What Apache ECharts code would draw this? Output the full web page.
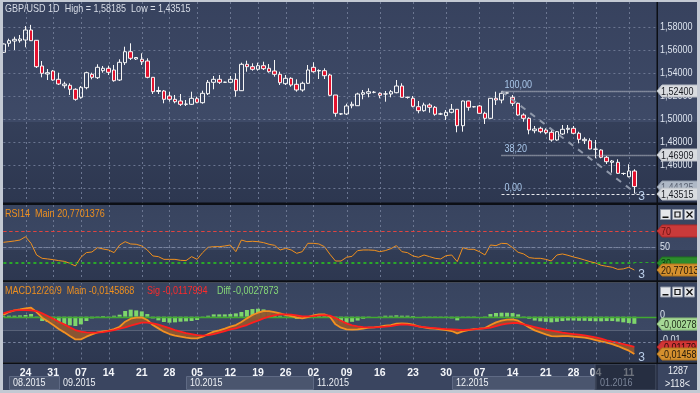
<!DOCTYPE html>
<html><head><meta charset="utf-8">
<script src="https://cdn.jsdelivr.net/npm/echarts@6/dist/echarts.min.js"></script>
<style>html,body{margin:0;padding:0;background:#c3c9d3;}#c{width:700px;height:393px;}</style>
</head><body><div id="c"></div>
<script>
// ---------- DATA ----------
const opens = [1.55800,1.56583,1.56783,1.56809,1.56870,1.57739,1.56844,1.54609,1.53913,1.54174,
1.53452,1.52896,1.52931,1.52583,1.51887,1.52722,1.53887,1.53591,1.54200,1.54409,
1.54261,1.53391,1.54896,1.55852,1.55218,1.55192,1.55044,1.53626,1.52392,1.52435,
1.52000,1.51713,1.51565,1.51278,1.51278,1.51765,1.51418,1.52200,1.53191,1.53452,
1.53191,1.53191,1.53452,1.52461,1.54757,1.54548,1.54322,1.54635,1.54409,1.54174,
1.53887,1.53070,1.53539,1.53018,1.52522,1.53105,1.54496,1.54174,1.54200,1.53826,
1.52087,1.50435,1.50435,1.51157,1.51157,1.52148,1.52235,1.52322,1.52235,1.52174,
1.52174,1.52287,1.52870,1.51887,1.51800,1.51070,1.50722,1.51218,1.51018,1.50435,
1.50287,1.50583,1.50844,1.49418,1.51565,1.51070,1.51131,1.50496,1.50061,1.51800,
1.51652,1.52261,1.51887,1.51365,1.50348,1.50061,1.48983,1.49192,1.49044,1.48844,
1.48174,1.48696,1.49105,1.49192,1.48757,1.48113,1.48113,1.47365,1.47304,1.46670,
1.46235,1.46235,1.45265,1.44983,1.45478];
const closes = [1.56522,1.56809,1.56931,1.56957,1.57739,1.56809,1.54548,1.53974,1.54026,1.53391,
1.53044,1.53044,1.52583,1.51713,1.52757,1.54026,1.53626,1.54496,1.54409,1.54061,
1.53331,1.54931,1.55852,1.55278,1.55348,1.54983,1.53626,1.52374,1.52478,1.51713,
1.51713,1.51504,1.51278,1.51300,1.51800,1.51452,1.52235,1.53191,1.53452,1.53191,
1.53200,1.53452,1.52461,1.54757,1.54548,1.54322,1.54635,1.54374,1.54113,1.53887,
1.53157,1.53539,1.52957,1.52522,1.53105,1.54261,1.54113,1.54217,1.53765,1.52061,
1.50496,1.50450,1.51131,1.51278,1.52174,1.52287,1.52374,1.52330,1.52061,1.52180,
1.52374,1.52870,1.51887,1.51880,1.51105,1.50722,1.51218,1.51018,1.50409,1.50440,
1.50583,1.50844,1.49418,1.51565,1.51018,1.51060,1.50496,1.50061,1.51800,1.51652,
1.52235,1.52265,1.51365,1.50348,1.50061,1.49044,1.49131,1.48896,1.48809,1.48174,
1.48896,1.49105,1.49192,1.48757,1.48235,1.48235,1.47391,1.47380,1.46670,1.46287,
1.46348,1.45278,1.45260,1.45478,1.44125];
const lows = [1.55739,1.56287,1.56000,1.56635,1.56235,1.56783,1.54435,1.53626,1.53391,1.53331,
1.52957,1.52670,1.52087,1.51591,1.51765,1.52583,1.53452,1.53478,1.54026,1.53826,
1.53244,1.53305,1.54696,1.55131,1.55131,1.54696,1.53539,1.52174,1.52174,1.51365,
1.51504,1.51365,1.51131,1.51131,1.51218,1.51365,1.51331,1.52087,1.52583,1.53044,
1.53150,1.53157,1.51939,1.52435,1.54113,1.54200,1.54200,1.54261,1.54026,1.53678,
1.52957,1.52957,1.52809,1.52374,1.52374,1.53044,1.54026,1.53478,1.53478,1.52000,
1.50200,1.50348,1.50348,1.50931,1.51131,1.51713,1.51887,1.52235,1.51800,1.51504,
1.51887,1.52235,1.51887,1.51765,1.51018,1.50496,1.50635,1.50548,1.50287,1.50348,
1.49913,1.50496,1.48844,1.48896,1.50722,1.51000,1.50450,1.49565,1.50000,1.51218,
1.51365,1.52220,1.51131,1.50287,1.49765,1.48670,1.48757,1.48757,1.48670,1.48026,
1.48113,1.48609,1.48757,1.48670,1.47887,1.47826,1.47365,1.46583,1.46583,1.46087,
1.45331,1.45217,1.45131,1.44922,1.43515];
const highs = [1.56565,1.56983,1.57157,1.57305,1.58087,1.58185,1.56870,1.55044,1.54348,1.54261,
1.54026,1.53244,1.53105,1.52670,1.52870,1.54113,1.54026,1.54757,1.54609,1.54635,
1.54696,1.55192,1.56287,1.56583,1.55365,1.55713,1.55278,1.53626,1.52809,1.52522,
1.52374,1.52087,1.52174,1.51652,1.52374,1.51939,1.52461,1.53391,1.53739,1.53826,
1.53250,1.53739,1.53974,1.54896,1.55070,1.54844,1.54896,1.54983,1.54783,1.55131,
1.54113,1.53826,1.53626,1.53452,1.53244,1.54696,1.54931,1.54322,1.54409,1.53913,
1.52087,1.50496,1.51331,1.51504,1.52287,1.52522,1.52670,1.52435,1.52322,1.52435,
1.52522,1.53391,1.53105,1.51939,1.52000,1.51565,1.51418,1.51365,1.51131,1.50548,
1.50783,1.51305,1.50870,1.51600,1.51600,1.51100,1.51218,1.50635,1.51820,1.52374,
1.52400,1.52300,1.52087,1.51418,1.50496,1.50148,1.49391,1.49331,1.49192,1.49044,
1.48957,1.49479,1.49479,1.49391,1.48896,1.48409,1.48322,1.48174,1.47365,1.46783,
1.46435,1.46496,1.45331,1.46061,1.45626];
const rsi = [55.7,56.5,57.4,58.6,62.8,54.4,39.7,35.5,34.7,33.8,
32.6,31.7,29.2,25.8,36.8,42.7,43.5,49.0,47.3,46.0,
42.7,52.3,56.5,53.6,53.2,51.1,46.0,38.5,37.6,34.2,
34.2,34.2,33.0,32.6,37.6,34.2,42.7,49.4,50.2,50.2,
51.1,52.3,43.9,58.6,56.5,57.0,56.5,55.3,53.2,51.9,
46.0,48.1,46.0,41.8,43.9,54.4,54.4,53.6,50.2,40.6,
32.1,32.1,36.8,38.0,45.2,46.0,46.0,45.6,43.9,45.2,
47.7,51.5,43.9,42.7,38.5,36.8,39.7,37.6,35.5,34.7,
38.9,39.7,31.3,49.0,46.9,46.9,43.9,39.7,52.3,51.5,
54.4,54.0,49.0,43.1,41.0,36.4,35.5,35.5,34.2,32.1,
39.7,41.0,39.3,37.2,35.5,33.4,31.3,29.6,26.7,25.4,
24.2,21.6,22.1,24.2,20.77];
const macdMain = [0.00065,0.00182,0.00247,0.00286,0.00326,0.00352,0.00182,-0.00039,-0.00182,-0.00326,
-0.00482,-0.00612,-0.00755,-0.00885,-0.00885,-0.00781,-0.00690,-0.00612,-0.00573,-0.00547,
-0.00482,-0.00391,-0.00195,-0.00078,-0.00039,-0.00026,-0.00130,-0.00326,-0.00456,-0.00586,
-0.00677,-0.00742,-0.00781,-0.00820,-0.00846,-0.00846,-0.00781,-0.00677,-0.00586,-0.00534,
-0.00469,-0.00391,-0.00326,-0.00208,-0.00065,0.00065,0.00156,0.00221,0.00221,0.00182,
0.00130,0.00065,0.00026,-0.00039,-0.00065,-0.00013,0.00052,0.00091,0.00091,0.00000,
-0.00299,-0.00430,-0.00495,-0.00508,-0.00495,-0.00469,-0.00430,-0.00417,-0.00391,-0.00352,
-0.00326,-0.00273,-0.00260,-0.00273,-0.00313,-0.00378,-0.00417,-0.00456,-0.00469,-0.00495,
-0.00521,-0.00560,-0.00651,-0.00573,-0.00521,-0.00482,-0.00469,-0.00443,-0.00326,-0.00221,
-0.00156,-0.00117,-0.00104,-0.00156,-0.00286,-0.00417,-0.00534,-0.00612,-0.00690,-0.00755,
-0.00768,-0.00755,-0.00755,-0.00781,-0.00794,-0.00820,-0.00859,-0.00911,-0.00964,-0.01016,
-0.01068,-0.01146,-0.01237,-0.01328,-0.01459];
const macdSig = [0.00130,0.00195,0.00247,0.00260,0.00260,0.00247,0.00221,0.00130,0.00026,-0.00078,
-0.00195,-0.00299,-0.00417,-0.00521,-0.00586,-0.00612,-0.00625,-0.00625,-0.00599,-0.00560,
-0.00521,-0.00469,-0.00417,-0.00352,-0.00286,-0.00234,-0.00234,-0.00260,-0.00313,-0.00378,
-0.00443,-0.00521,-0.00586,-0.00638,-0.00677,-0.00716,-0.00742,-0.00716,-0.00677,-0.00625,
-0.00560,-0.00495,-0.00456,-0.00391,-0.00326,-0.00234,-0.00156,-0.00065,0.00000,0.00052,
0.00091,0.00091,0.00078,0.00052,0.00013,0.00013,0.00026,0.00052,0.00065,0.00039,
-0.00052,-0.00156,-0.00260,-0.00339,-0.00378,-0.00404,-0.00417,-0.00417,-0.00404,-0.00391,
-0.00365,-0.00326,-0.00299,-0.00313,-0.00339,-0.00378,-0.00404,-0.00430,-0.00443,-0.00469,
-0.00482,-0.00495,-0.00508,-0.00521,-0.00508,-0.00495,-0.00469,-0.00456,-0.00430,-0.00365,
-0.00313,-0.00273,-0.00247,-0.00247,-0.00299,-0.00352,-0.00404,-0.00456,-0.00508,-0.00547,
-0.00586,-0.00625,-0.00651,-0.00677,-0.00703,-0.00729,-0.00768,-0.00807,-0.00859,-0.00924,
-0.00977,-0.01016,-0.01068,-0.01120,-0.01180];
const macdDiff = [0.00030,0.00040,0.00040,0.00050,0.00066,0.00105,-0.00039,-0.00169,-0.00208,-0.00248,
-0.00287,-0.00313,-0.00338,-0.00364,-0.00299,-0.00169,-0.00065,0.00013,0.00026,0.00013,
0.00039,0.00078,0.00222,0.00274,0.00247,0.00208,0.00104,-0.00066,-0.00143,-0.00208,
-0.00234,-0.00221,-0.00195,-0.00182,-0.00169,-0.00130,-0.00039,0.00039,0.00091,0.00091,
0.00091,0.00104,0.00130,0.00183,0.00261,0.00299,0.00312,0.00286,0.00221,0.00130,
0.00039,-0.00026,-0.00052,-0.00091,-0.00078,-0.00026,0.00026,0.00039,0.00026,-0.00039,
-0.00247,-0.00274,-0.00235,-0.00200,-0.00150,-0.00080,-0.00020,0.00000,0.00013,0.00039,
0.00039,0.00053,0.00039,0.00040,0.00026,0.00000,-0.00013,-0.00026,-0.00026,-0.00026,
-0.00039,-0.00065,-0.00143,-0.00052,-0.00013,0.00013,0.00000,0.00013,0.00104,0.00144,
0.00157,0.00156,0.00143,0.00091,0.00013,-0.00080,-0.00150,-0.00180,-0.00200,-0.00220,
-0.00200,-0.00170,-0.00150,-0.00150,-0.00160,-0.00160,-0.00170,-0.00180,-0.00180,-0.00170,
-0.00170,-0.00190,-0.00220,-0.00250,-0.00279];
const slotCount = 119;
const tickIdx = [4,9,14,19,25,30,35,41,46,51,56,62,68,74,80,86,92,98,103,107,113];
const tickLabels = ['24','31','07','14','21','28','05','12','19','26','02','09','16','23','30','07','14','21','28','04','11'];
const monthStartIdx = [0,10,33,56,81,107];
const monthLabels = ['08.2015','09.2015','10.2015','11.2015','12.2015','01.2016'];
const priceTicks = [1.44,1.46,1.48,1.50,1.52,1.54,1.56,1.58];
const rsiTicks = [50];
const macdTicks = [0, -0.01];
const macdTickLabels = ['0', '-0,01'];
const fibLevels = [1.524, 1.46909, 1.43515];
const fibLabels = ['100,00','38,20','0,00'];
const fibStartIdx = 90;
const trendFrom = [90, 1.524];
const trendTo = [114, 1.43515];
const lastPrice = 1.44125;
const rsiLevels = [70, 50, 30];
const titleMain = 'GBP/USD 1D  High = 1,58185  Low = 1,43515';
const titleRsi = 'RSI14  Main 20,7701376';
const titleMacd = ['MACD12/26/9  Main -0,0145868', 'Sig -0,0117994', 'Diff -0,0027873'];
const rsiTagText = '20,77013';
const macdTagTexts = ['-0,00278', '-0,01179', '-0,01458'];
const cornerTexts = ['1287', '>118<'];

// ---------- CHART ----------
const FONT = "'Liberation Sans',Arial,sans-serif";
const SX = 0.82; // condensed look of the original UI font
const chart = echarts.init(document.getElementById('c'), null, {width:700, height:393});
const cats = Array.from({length:slotCount}, (_, i) => String(i));
const tickMap = {}; tickIdx.forEach((t, k) => tickMap[t] = tickLabels[k]);
const candles = opens.map((o, i) => [o, closes[i], lows[i], highs[i]]);
const fillBase = macdMain.map((m, i) => Math.min(m, macdSig[i]));
const fillBand = macdMain.map((m, i) => Math.abs(m - macdSig[i]));
const fmt5 = v => v.toFixed(5).replace('.', ',');
const GL = 3.4, GW = 653.1;
const NONE = 'rgba(0,0,0,0)';
const hiddenX = gi => ({type:'category', gridIndex:gi, data:cats, boundaryGap:false,
  axisLine:{show:false}, axisTick:{show:false}, axisLabel:{show:false}, splitLine:{show:false}});
const rsiLineColors = [10,20,30,40,50,60,70,80,90].map(v => v === rsiLevels[0] ? '#e04440' : v === rsiLevels[2] ? '#2aa82a' : v === rsiLevels[1] ? '#7a85a0' : NONE);

const option = {
  animation:false,
  backgroundColor:'#c3c9d3',
  textStyle:{fontFamily:FONT},
  grid:[
    {left:GL, width:GW, top:4, height:207, outerBoundsMode:'none'},
    {left:GL, width:GW, top:207.2, height:79.25, outerBoundsMode:'none'},
    {left:GL, width:GW, top:265.5, height:102.4, outerBoundsMode:'none'},
    {left:GL, width:GW, top:355, height:8, outerBoundsMode:'none'}
  ],
  xAxis:[hiddenX(0), hiddenX(1), hiddenX(2),
    {type:'category', gridIndex:3, data:cats, boundaryGap:false, axisLine:{show:false}, axisTick:{show:false}, splitLine:{show:false},
     axisLabel:{show:true, interval:(idx)=>tickMap[idx]!==undefined, formatter:(v)=>tickMap[+v]||'', color:'#f4f6fa', fontSize:10.5, fontWeight:'bold', fontFamily:FONT, margin:5}}
  ],
  yAxis:[
    {type:'value', gridIndex:0, position:'right', min:1.42, max:1.60, interval:0.02, axisLine:{show:false}, axisTick:{show:false},
     axisLabel:{show:false},
     splitLine:{show:true, showMinLine:false, showMaxLine:false, lineStyle:{color:'#6b7691', type:[2,3], width:1}}},
    {type:'value', gridIndex:1, min:0, max:100, interval:10, axisLine:{show:false}, axisTick:{show:false}, axisLabel:{show:false},
     splitLine:{show:true, showMinLine:false, showMaxLine:false, lineStyle:{color:rsiLineColors, type:[3,3], width:1}}},
    {type:'value', gridIndex:2, min:-0.02, max:0.02, interval:0.01, axisLine:{show:false}, axisTick:{show:false}, axisLabel:{show:false},
     splitLine:{show:true, showMinLine:false, showMaxLine:false, lineStyle:{color:['#7a85a0', NONE, NONE], type:[2,3], width:1}}},
    {type:'value', gridIndex:3, show:false}
  ],
  series:[
    {type:'candlestick', xAxisIndex:0, yAxisIndex:0, data:candles, barWidth:4, z:3,
     itemStyle:{color:'rgba(0,0,0,0)', color0:'#e3122e', borderColor:'#f6f6f6', borderColor0:'#f6f6f6', borderColorDoji:'#f6f6f6', borderWidth:1}},
    {type:'line', xAxisIndex:1, yAxisIndex:1, data:rsi, symbol:'none', z:6, lineStyle:{color:'#f0901e', width:1}},
    {type:'bar', xAxisIndex:2, yAxisIndex:2, data:macdDiff, barWidth:4, z:3, itemStyle:{color:'#7ed66b'}},
    {type:'line', xAxisIndex:2, yAxisIndex:2, data:fillBase, stack:'f', stackStrategy:'all', symbol:'none', z:6, lineStyle:{width:0, opacity:0}},
    {type:'line', xAxisIndex:2, yAxisIndex:2, data:fillBand, stack:'f', stackStrategy:'all', symbol:'none', z:6, lineStyle:{width:0, opacity:0},
     areaStyle:{color:'#8e5631', opacity:0.95}},
    {type:'line', xAxisIndex:2, yAxisIndex:2, data:macdMain, symbol:'none', z:7, lineStyle:{color:'#f39021', width:1.8}},
    {type:'line', xAxisIndex:2, yAxisIndex:2, data:macdSig, symbol:'none', z:7, lineStyle:{color:'#ff1e1e', width:1.8}}
  ]
};
chart.setOption(option);

// ---------- overlays positioned through the chart's own scales ----------
const px = (gi, idx, val) => chart.convertToPixel({gridIndex:gi}, [idx, val]);
const crisp = v => Math.round(v) + 0.5;
const els = [];
const rect = (x, y, w, h, style, z) => els.push({type:'rect', shape:{x, y, width:w, height:h}, style, z, silent:true});
const hline = (x1, x2, y, stroke, dash, z, lw) => els.push({type:'line', shape:{x1:x1, y1:y, x2:x2, y2:y},
  style:{stroke:stroke, lineWidth:lw || 1, lineDash:dash || null}, z:z, silent:true});
const grad = (c1, c2) => ({type:'linear', x:0, y:0, x2:0, y2:1, colorStops:[{offset:0, color:c1}, {offset:1, color:c2}]});
const txt = (x, y, text, fill, z, extra, sx) => els.push({type:'text', x, y, z, silent:true, scaleX:(sx === undefined ? SX : sx),
  style:Object.assign({text, fill, font:'11px '+FONT, textVerticalAlign:'middle', verticalAlign:'middle'}, (extra||{}))});

// panel backgrounds
rect(3, 2, 694, 120, {fill:grad('#37425e', '#3e4a67')}, -100);
rect(3, 122, 694, 81, {fill:grad('#343f59', '#2d3750')}, -100);
rect(3, 205, 694, 45, {fill:grad('#38445f', '#3c4864')}, -100);
rect(3, 250, 694, 31, {fill:grad('#313c55', '#2d3750')}, -100);
rect(3, 282.5, 694, 48, {fill:grad('#38445f', '#3c4864')}, -100);
rect(3, 330.5, 694, 32, {fill:grad('#313c55', '#2d3750')}, -100);
rect(3, 364, 694, 26, {fill:'#3a4560'}, -100);

// indicator level lines: overlay copies (same pixels as the axis split lines)
const xL = px(1, 0, 0)[0], xR = px(1, slotCount - 1, 0)[0], xLast = px(1, 114, 0)[0];
hline(xL, xLast, crisp(px(1, 0, rsiLevels[0])[1]), '#e04440', [3,3], 55);
hline(xL, xR, crisp(px(1, 0, rsiLevels[1])[1]), '#7a85a0', [2,3], 55);
hline(xL, xLast, crisp(px(1, 0, rsiLevels[2])[1]), '#2aa82a', [3,3], 55);
hline(xL, xR, crisp(px(2, 0, -0.01)[1]), '#7a85a0', [2,3], 55);
// MACD zero line
hline(xL, xR + 1, crisp(px(2, 0, 0)[1]), '#41aa31', null, 5, 1.5);

// titles
txt(5, 8.5, titleMain, '#d8dde7', 60);
txt(5, 213.5, titleRsi, '#f0901e', 60);
txt(5, 290.5, titleMacd[0], '#f0901e', 60);
txt(147, 290.5, titleMacd[1], '#ff2a2a', 60);
txt(217, 290.5, titleMacd[2], '#86d878', 60);

// right-axis tick labels
priceTicks.forEach(v => txt(660, px(0, 0, v)[1], fmt5(v), '#dce3ee', 60));
rsiTicks.forEach(v => txt(660, px(1, 0, v)[1], String(v), '#dce3ee', 60));
macdTicks.forEach((v, k) => txt(660, px(2, 0, v)[1] - 2, macdTickLabels[k], '#dce3ee', 60));

// vertical dotted grid lines per panel
const panels = [[2, 202.5], [205, 280.3], [282.5, 362.3]];
tickIdx.forEach(t => {
  const x = crisp(px(0, t, 1.5)[0]);
  panels.forEach(p => els.push({type:'line', shape:{x1:x, y1:p[0], x2:x, y2:p[1]}, style:{stroke:'#6b7691', lineWidth:1, lineDash:[2,3]}, z:-50, silent:true}));
});

// fibonacci levels
fibLevels.forEach((lv, k) => {
  const p0 = px(0, fibStartIdx, lv), p1 = px(0, slotCount - 1, lv);
  const y = crisp(p0[1]);
  hline(p0[0], p1[0], y, k === 2 ? '#e6e8ec' : '#c4c8d0', k === 2 ? [3,2] : [1,1], 40, k === 2 ? 1 : 1.5);
  txt(p0[0] + 3, y - 7, fibLabels[k], '#a9c7ea', 41);
});
// trend line
const t0 = px(0, trendFrom[0], trendFrom[1]), t1 = px(0, trendTo[0], trendTo[1]);
els.push({type:'line', shape:{x1:t0[0], y1:t0[1], x2:t1[0] + 2, y2:t1[1]}, style:{stroke:'#8f98aa', lineWidth:2, lineDash:[6,6]}, z:39, silent:true});

// shift markers "3"
const lastI = closes.length - 1;
const mx = px(0, lastI, 1.5)[0] + 4;
txt(mx, px(0, lastI, lows[lastI])[1] + 3, '3', '#b9cde8', 45, {font:'12px '+FONT}, 1);
txt(mx, px(1, lastI, rsi[lastI])[1] + 5, '3', '#b9cde8', 45, {font:'12px '+FONT}, 1);
txt(mx, px(2, lastI, macdMain[lastI])[1] + 4, '3', '#b9cde8', 45, {font:'12px '+FONT}, 1);

// separators
rect(3, 202.5, 694, 2.5, {fill:'#0c0f15'}, 150);
rect(3, 280.3, 694, 2.2, {fill:'#0c0f15'}, 150);
rect(3, 362.3, 694, 1.8, {fill:'#0c0f15'}, 150);
rect(656.5, 2, 1.5, 362, {fill:'#0c0f15'}, 150);
rect(656.5, 364, 1, 26, {fill:'#1b2130'}, 150);

// price tags
let zt = 200;
function tag(y, text, fill, stroke, color) {
  const x = 657, w = 38;
  y = Math.round(y);
  els.push({type:'polygon', shape:{points:[[x, y], [x + 5, y - 6], [x + 5 + w, y - 6], [x + 5 + w, y + 6], [x + 5, y + 6]]},
    style:{fill, stroke, lineWidth:1}, z:zt++, silent:true});
  txt(x + 4, y + 0.5, text, color, zt++);
}
tag(px(0, 0, fibLevels[0])[1], fmt5(fibLevels[0]), '#d9dce0', '#b9bec6', '#1a1d24');
tag(px(0, 0, fibLevels[1])[1], fmt5(fibLevels[1]), '#d9dce0', '#b9bec6', '#1a1d24');
tag(px(0, 0, lastPrice)[1], fmt5(lastPrice), '#aeb8c6', '#8c96a6', '#5c6474');
tag(px(0, 0, fibLevels[2])[1], fmt5(fibLevels[2]), '#d9dce0', '#b9bec6', '#1a1d24');
tag(px(1, 0, rsiLevels[0])[1], String(rsiLevels[0]), '#c93a3a', '#a82828', '#6a1010');
tag(px(1, 0, rsiLevels[2])[1], String(rsiLevels[2]), '#2c8c2c', '#1f6e1f', '#0c3a0c');
tag(px(1, 0, rsi[lastI])[1], rsiTagText, '#d4902e', '#b0741e', '#23180a');
tag(px(2, 0, macdDiff[lastI])[1], macdTagTexts[0], '#a6d996', '#86b976', '#1d2a18');
tag(px(2, 0, macdSig[lastI])[1], macdTagTexts[1], '#d03535', '#a82222', '#2a0808');
tag(px(2, 0, macdMain[lastI])[1], macdTagTexts[2], '#d4902e', '#b0741e', '#23180a');

// window buttons
[209.5, 287].forEach(by => {
  [660.5, 672.5, 684.5].forEach((bx, k) => {
    rect(bx, by, 10, 10, {fill:'#e4e6ea', stroke:'#8d95a4', lineWidth:1}, 260);
    if (k === 0) rect(bx + 2, by + 7, 6, 1.5, {fill:'#111'}, 261);
    if (k === 1) rect(bx + 2.5, by + 2.5, 5, 5, {fill:'none', stroke:'#111', lineWidth:1.2}, 261);
    if (k === 2) {
      els.push({type:'line', shape:{x1:bx + 2, y1:by + 2, x2:bx + 8, y2:by + 8}, style:{stroke:'#111', lineWidth:1.2}, z:261, silent:true});
      els.push({type:'line', shape:{x1:bx + 8, y1:by + 2, x2:bx + 2, y2:by + 8}, style:{stroke:'#111', lineWidth:1.2}, z:261, silent:true});
    }
  });
});

// month boxes
monthLabels.forEach((m, k) => {
  const last = k === monthLabels.length - 1;
  const x0 = k === 0 ? 9 : Math.round(px(0, monthStartIdx[k], 1.5)[0]);
  const x1 = last ? 656 : Math.round(px(0, monthStartIdx[k + 1], 1.5)[0]);
  if (last) {
    rect(x0 - 1, 364, x1 - x0 + 1, 26, {fill:'rgba(26,32,46,0.62)', stroke:'#4a546b', lineWidth:1}, 120);
    txt(x0 + 4, 383, m, '#7a8498', 121);
  } else {
    if (k % 2 === 0) rect(x0 + 0.5, 376.5, x1 - x0, 13, {fill:'#4a556e', stroke:'#5f6a84', lineWidth:1}, -60);
    txt(x0 + 4, 383, m, '#eef1f6', 60);
  }
});
// corner info
txt(668, 371, cornerTexts[0], '#eef1f6', 60);
txt(665, 384, cornerTexts[1], '#eef1f6', 60);

// outer frame on top
rect(0, 0, 700, 2, {fill:'#c3c9d3'}, 300);
rect(0, 0, 3, 393, {fill:'#c3c9d3'}, 300);
rect(697, 0, 3, 393, {fill:'#c3c9d3'}, 300);
rect(0, 390, 700, 3, {fill:'#c3c9d3'}, 300);

chart.setOption({graphic:{elements:els}});
</script>
</body></html>
